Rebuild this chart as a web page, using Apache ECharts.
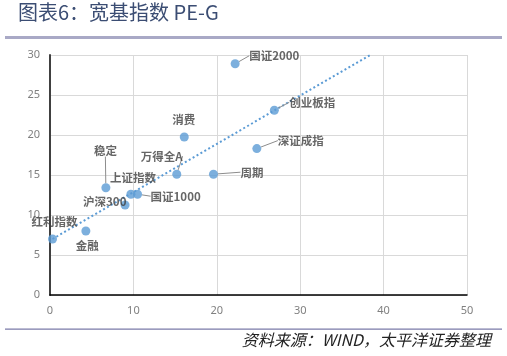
<!DOCTYPE html>
<html><head><meta charset="utf-8">
<script src="https://cdn.jsdelivr.net/npm/echarts@6/dist/echarts.min.js"></script>
<style>html,body{margin:0;padding:0;background:#fff}#c{width:507px;height:356px}</style>
</head><body><div id="c"></div>
<script>
var names = ['国证2000','创业板指','深证成指','周期','消费','万得全A','稳定','上证指数','国证1000','沪深300','红利指数','金融'];
var growth = [22.2, 26.9, 24.8, 19.6, 16.1, 15.2, 6.7, 9.7, 10.5, 9.0, 0.3, 4.3];
var pe = [28.9, 23.1, 18.3, 15.1, 19.75, 15.1, 13.4, 12.6, 12.6, 11.25, 7.0, 8.0];
var trendX = [0.3, 38.4];
var trendY = [7.0, 30.0];
var xTicks = [0, 10, 20, 30, 40, 50];
var yTicks = [0, 5, 10, 15, 20, 25, 30];

// label offsets (styling only)
var labelOff = [[4.5,-8],[5.5,-8],[11.5,-8],[17.5,-2],[-21.5,-17],[-45.5,-18],[-21.5,-37],[-30.5,-17],[3.5,2],[-51.5,-3],[-30.5,-17],[-19.5,15]];
var showLine = [true,true,true,true,false,true,true,false,true,false,false,false];

var chart = echarts.init(document.getElementById('c'));
var pts = names.map(function(n,i){
  return {name:n, value:[growth[i], pe[i]], labelLine:{show:showLine[i]}};
});
chart.setOption({
  animation:false,
  grid:{left:50, right:40, top:55, bottom:61},
  xAxis:{type:'value', min:xTicks[0], max:xTicks[xTicks.length-1], interval:10,
    axisLine:{show:true, onZero:false, lineStyle:{color:'#000', width:1.5}},
    axisTick:{show:false},
    axisLabel:{color:'#808080', fontSize:11, fontFamily:'Noto Sans', margin:10},
    splitLine:{show:true, lineStyle:{color:'#d9d9d9', width:1}}},
  yAxis:{type:'value', min:yTicks[0], max:yTicks[yTicks.length-1], interval:5,
    axisLine:{show:true, onZero:false, lineStyle:{color:'#404040', width:2}},
    axisTick:{show:false},
    axisLabel:{color:'#808080', fontSize:11, fontFamily:'Noto Sans', margin:10},
    splitLine:{show:true, lineStyle:{color:'#d9d9d9', width:1}}},
  series:[
    {type:'line', data:trendX.map(function(x,i){return [x,trendY[i]];}), symbol:'none',
     lineStyle:{color:'#5b9bd5', width:2, type:[2,2.5]}, z:1, silent:true},
    {type:'scatter', data:pts, symbolSize:9, itemStyle:{color:'#5b9bd5'}, z:3,
     label:{show:true, position:'right', distance:5, formatter:'{b}', color:'#404040',
       fontSize:11.5, fontWeight:'bold', fontFamily:'"Noto Sans CJK SC"'},
     labelLine:{show:true, lineStyle:{color:'#8c8c8c', width:1}},
     labelLayout:function(p){ var o=labelOff[p.dataIndex]; return {dx:o[0], dy:o[1]}; }
    }
  ],
  graphic:[
    {type:'text', left:18, top:2, style:{text:'图表6：宽基指数 PE-G', fill:'#3b4d73', font:'normal 20px "Noto Sans CJK SC"'}},
    {type:'rect', shape:{x:5, y:36, width:497, height:3}, style:{fill:'#a9a9c6'}},
    {type:'rect', shape:{x:5, y:328.5, width:497, height:1.2}, style:{fill:'#7a7aa8'}},
    {type:'text', right:16, top:332, style:{text:'资料来源：WIND，太平洋证券整理', fill:'#222', font:'italic 16px "Noto Sans CJK SC"'}}
  ]
});
</script></body></html>
